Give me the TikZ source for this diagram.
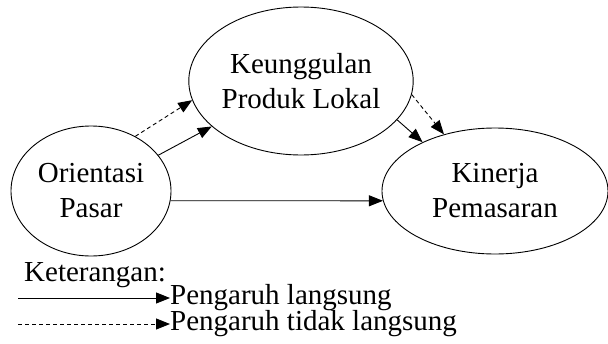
\documentclass[tikz,border=0pt]{standalone}
\usepackage{fontspec}
\setmainfont{Liberation Serif}
\usetikzlibrary{shapes.geometric,arrows.meta}

\tikzset{
  var/.style={draw, ellipse, inner sep=0pt, align=center, line width=0.9pt},
  direct/.style={line width=0.9pt, -{Triangle[length=14pt,width=11pt]}},
  indirect/.style={direct, dash pattern=on 4pt off 3pt},
}

\begin{document}
\begin{tikzpicture}[x=1pt, y=-1pt, font=\fontsize{29}{35}\selectfont]
  \useasboundingbox (0,0) rectangle (608,343);

  \node[var, minimum width=160pt, minimum height=130pt] (op) at (91,191) {Orientasi\\Pasar};
  \node[var, minimum width=192pt, minimum height=148pt] (kpl) at (301,81) {Keunggulan\\Produk Lokal};
  \node[var, minimum width=226pt, minimum height=126pt] (kp) at (495,191) {Kinerja\\Pemasaran};

  \draw[direct] (op.28) -- (kpl.207);
  \draw[indirect] (op.51) -- (kpl.190);
  \draw[direct] (kpl.338) -- (kp.146);
  \draw[indirect] (kpl.353) -- (kp.132);
  \draw[direct] (op.-7) -- (kp.185);

  % keterangan
  \node[anchor=base west, inner sep=0pt] (ket) at (24,281) {Keterangan:};
  \node[anchor=west, inner sep=0pt] (langsung) at (170,298) {Pengaruh langsung};
  \node[anchor=west, inner sep=0pt] (tidak) at (170,324) {Pengaruh tidak langsung};
  \coordinate (a1) at (18,298);
  \coordinate (a2) at (18,324);
  \draw[direct] (a1) -- (langsung.west);
  \draw[indirect] (a2) -- (tidak.west);
\end{tikzpicture}
\end{document}
